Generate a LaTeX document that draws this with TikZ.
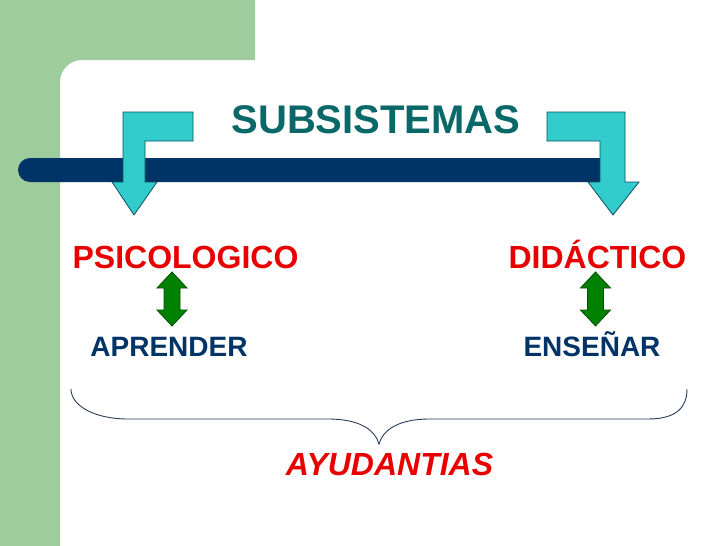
\documentclass[tikz,border=0pt]{standalone}
\usepackage{fontspec}
\setmainfont{Liberation Sans}
\definecolor{bggreen}{RGB}{158,204,156}
\definecolor{barblue}{RGB}{0,51,102}
\definecolor{cyanfill}{RGB}{51,204,204}
\definecolor{cyanline}{RGB}{10,80,100}
\definecolor{titleteal}{RGB}{10,104,104}
\definecolor{redtext}{RGB}{232,0,0}
\definecolor{arrgreen}{RGB}{0,128,0}
\definecolor{arrgreenline}{RGB}{0,80,0}
\definecolor{bracecol}{RGB}{40,60,90}
\tikzset{
  lbl/.style={anchor=base, inner sep=0pt, font=\bfseries\fontsize{32}{38}\selectfont},
  redlbl/.style={lbl, text=redtext},
  bluelbl/.style={lbl, text=barblue, font=\bfseries\fontsize{28}{34}\selectfont},
  bentarrow/.style={fill=cyanfill, draw=cyanline, line width=0.8pt, line join=miter},
  dblarrow/.style={fill=arrgreen, draw=arrgreenline, line width=0.8pt},
}
\begin{document}
\begin{tikzpicture}[x=1pt,y=-1pt]
\useasboundingbox (0,0) rectangle (728,546);
\fill[white] (0,0) rectangle (728,546);
% green background
\fill[bggreen] (0,0) -- (255,0) -- (255,60) -- (82,60) arc[start angle=270,end angle=180,radius=22] -- (60,546) -- (0,546) -- cycle;
% dark bar
\fill[barblue] (30,158) -- (600,158) -- (600,182) -- (30,182) arc[start angle=90,end angle=270,radius=12] -- cycle;
% bent arrows
\draw[bentarrow] (193,112) -- (123,112) -- (123,182) -- (112,182) -- (134,215) -- (157,182) -- (145,182) -- (145,141) -- (193,141) -- cycle;
\draw[bentarrow] (547,112) -- (625,112) -- (625,182) -- (639,182) -- (613,215) -- (588,182) -- (600,182) -- (600,141) -- (547,141) -- cycle;
% texts
\node[lbl, text=titleteal, font=\bfseries\fontsize{40}{48}\selectfont] (title) at (376,133) {SUBSISTEMAS};
\node[redlbl] (psico) at (185.5,268) {PSICOLOGICO};
\node[redlbl] (dida) at (597.5,268) {DIDÁCTICO};
\node[bluelbl] (apr) at (169,356) {APRENDER};
\node[bluelbl] (ens) at (592,356) {ENSEÑAR};
\node[redlbl, font=\bfseries\itshape\fontsize{32}{38}\selectfont] (ayu) at (389.5,475) {AYUDANTIAS};
% green double arrows
\foreach \cx/\nm in {172/a, 595.5/b}{
  \draw[dblarrow] (\cx,272) -- (\cx+15,288) -- (\cx+8,288) -- (\cx+8,310) -- (\cx+15,310) -- (\cx,326) -- (\cx-15,310) -- (\cx-8,310) -- (\cx-8,288) -- (\cx-15,288) -- cycle;
}
% brace
\draw[bracecol, line width=0.9pt] (71,389) .. controls (71,406) and (95,419) .. (128,419) -- (328,419) .. controls (360,419) and (375,430) .. (379,444) .. controls (383,430) and (398,419) .. (430,419) -- (648,419) .. controls (678,419) and (687,406) .. (687,389);
\end{tikzpicture}
\end{document}
